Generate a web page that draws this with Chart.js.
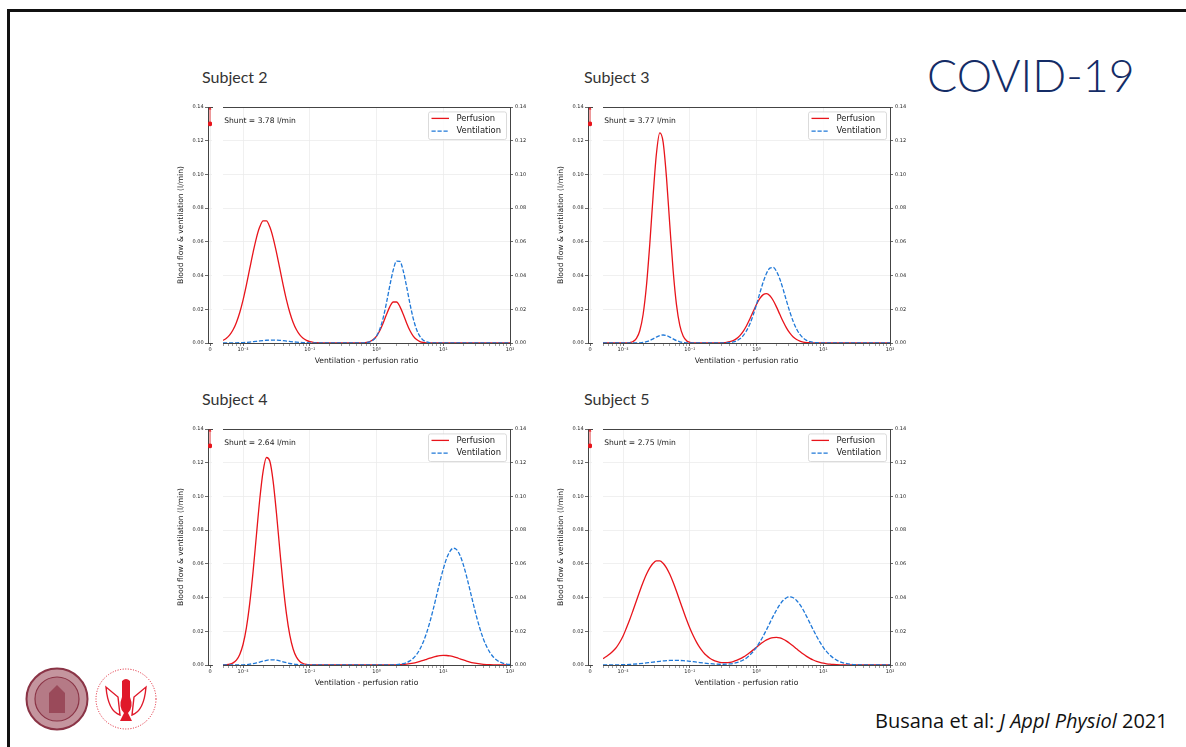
<!DOCTYPE html>
<html>
<head>
<meta charset="utf-8">
<title>COVID-19 – V/Q distributions</title>
<script src="https://cdn.jsdelivr.net/npm/chart.js@4.4.1/dist/chart.umd.min.js"></script>
<style>
  html, body { margin: 0; padding: 0; background: #fff; }
  #slide { position: relative; width: 1186px; height: 747px; overflow: hidden; background: #fff; }
  .frame-top { position: absolute; left: 7px; top: 9px; width: 1179px; height: 3px; background: #111; }
  .frame-left { position: absolute; left: 7px; top: 9px; width: 3px; height: 738px; background: #111; }
  .subject { position: absolute; font: 16px Lato, sans-serif; color: #333; white-space: nowrap; }
  #slide canvas { position: absolute; }
  #covid { position: absolute; left: 927px; top: 48px; font: 300 44.7px Lato, sans-serif; color: #142c66; white-space: nowrap; }
  #cite { position: absolute; left: 875px; top: 707px; font: 20px "Open Sans", sans-serif; color: #111; white-space: nowrap; }
  .logo { position: absolute; }
</style>
</head>
<body>
<div id="slide">
  <div class="frame-top"></div>
  <div class="frame-left"></div>
  <div id="covid">COVID-19</div>
  <div id="cite">Busana et al: <i>J Appl Physiol</i> 2021</div>
  <svg class="logo" style="left:25px;top:667px" width="64" height="64" viewBox="0 0 64 64">
    <circle cx="32" cy="32" r="30.5" fill="#c4959e" stroke="#8a3446" stroke-width="2"/>
    <circle cx="32" cy="32" r="22" fill="#b57a86" stroke="#8a3446" stroke-width="1.2"/>
    <path d="M24 46 L24 26 L32 18 L40 26 L40 46 Z" fill="#9a4a5a"/>
  </svg>
  <svg class="logo" style="left:94px;top:667px" width="64" height="64" viewBox="0 0 64 64">
    <circle cx="32" cy="32" r="30" fill="none" stroke="#e0192a" stroke-width="1" stroke-dasharray="1 1.6"/>
    <path d="M12 20 Q14 44 26 48 L24 30 Z M52 20 Q50 44 38 48 L40 30 Z" fill="none" stroke="#e0192a" stroke-width="1.4"/>
    <path d="M28 14 Q32 10 36 14 L36 30 Q40 40 34 46 L38 54 L26 54 L30 46 Q24 40 28 30 Z" fill="#e0192a"/>
  </svg>
</div>
<script>
// ---- values ------------------------------------------------------------
const subjects = ['Subject 2', 'Subject 3', 'Subject 4', 'Subject 5'];
const shuntFlow = [3.78, 3.77, 2.64, 2.75];       // l/min, off scale
const shuntMarker = 0.13;                          // where the off-scale shunt dot is drawn
const shuntArrowTip = 0.139;

const flowTicks = [0, 0.02, 0.04, 0.06, 0.08, 0.10, 0.12, 0.14];
const ratioTicks = [0.01, 0.1, 1, 10, 100];
const ratioTickLabels = ['10⁻²', '10⁻¹', '10⁰', '10¹', '10²'];

// V/Q compartments (log spaced)
const ratioGrid = [
  0.005, 0.005623, 0.00631, 0.007079, 0.007943, 0.008913, 0.01, 0.01122, 0.01259, 0.01413,
  0.01585, 0.01778, 0.01995, 0.02239, 0.02512, 0.02818, 0.03162, 0.03548, 0.03981, 0.04467,
  0.05012, 0.05623, 0.0631, 0.07079, 0.07943, 0.08913, 0.1, 0.1122, 0.1259, 0.1413,
  0.1585, 0.1778, 0.1995, 0.2239, 0.2512, 0.2818, 0.3162, 0.3548, 0.3981, 0.4467,
  0.5012, 0.5623, 0.631, 0.7079, 0.7943, 0.8913, 1, 1.122, 1.259, 1.413,
  1.585, 1.778, 1.995, 2.239, 2.512, 2.818, 3.162, 3.548, 3.981, 4.467,
  5.012, 5.623, 6.31, 7.079, 7.943, 8.913, 10, 11.22, 12.59, 14.13,
  15.85, 17.78, 19.95, 22.39, 25.12, 28.18, 31.62, 35.48, 39.81, 44.67,
  50.12, 56.23, 63.1, 70.79, 79.43, 89.13, 100,
];

const perfusionS2 = [
  0.00154, 0.00277, 0.00478, 0.00785, 0.0122, 0.0181, 0.0256, 0.0345, 0.0442, 0.0538,
  0.0624, 0.0689, 0.0724, 0.0724, 0.0689, 0.0624, 0.0538, 0.0442, 0.0345, 0.0256,
  0.0181, 0.0122, 0.00785, 0.00478, 0.00277, 0.00154, 0.00081, 0.00041, 0.0002, 0.00009,
  0.00004, 0, 0, 0, 0, 0, 0, 0, 0, 0,
  0.00001, 0.00004, 0.00012, 0.00034, 0.00087, 0.00201, 0.00409, 0.00741, 0.01193, 0.01705,
  0.02161, 0.02433, 0.02433, 0.02161, 0.01705, 0.01193, 0.00741, 0.00409, 0.00201, 0.00087,
  0.00034, 0.00012, 0.00004, 0.00001, 0, 0, 0, 0, 0, 0,
  0, 0, 0, 0, 0, 0, 0, 0, 0, 0,
  0, 0, 0, 0, 0, 0, 0,
];
const ventilationS2 = [
  0.00001, 0.00002, 0.00003, 0.00006, 0.0001, 0.00016, 0.00026, 0.00039, 0.00056, 0.00076,
  0.00099, 0.00123, 0.00144, 0.00162, 0.00173, 0.00176, 0.0017, 0.00157, 0.00137, 0.00114,
  0.00091, 0.00069, 0.0005, 0.00034, 0.00022, 0.00014, 0.00008, 0.00005, 0.00003, 0.00001,
  0, 0, 0, 0, 0, 0, 0, 0, 0, 0,
  0.00001, 0.00002, 0.00008, 0.00024, 0.00069, 0.00179, 0.00409, 0.00831, 0.01502, 0.02409,
  0.03425, 0.04326, 0.04854, 0.04838, 0.04283, 0.03362, 0.02343, 0.01451, 0.008, 0.00389,
  0.0017, 0.00067, 0.00025, 0.00007, 0.00002, 0, 0, 0, 0, 0,
  0, 0, 0, 0, 0, 0, 0, 0, 0, 0,
  0, 0, 0, 0, 0, 0, 0,
];

const perfusionS3 = [
  0, 0, 0, 0, 0, 0, 0.00001, 0.00006, 0.00024, 0.00086,
  0.0027, 0.00728, 0.01692, 0.03393, 0.05863, 0.08738, 0.1124, 0.1246, 0.1192, 0.0984,
  0.07, 0.043, 0.02275, 0.01039, 0.0041, 0.00139, 0.00041, 0.0001, 0.00002, 0,
  0, 0, 0, 0.00001, 0.00003, 0.00008, 0.00018, 0.00038, 0.00077, 0.00146,
  0.0026, 0.00438, 0.00691, 0.01023, 0.01427, 0.01866, 0.02294, 0.02648, 0.02871, 0.02926,
  0.02801, 0.0252, 0.02127, 0.01688, 0.0126, 0.00882, 0.0058, 0.00358, 0.00208, 0.00113,
  0.00058, 0.00028, 0.00013, 0.00005, 0.00002, 0.00001, 0, 0, 0, 0,
  0, 0, 0, 0, 0, 0, 0, 0, 0, 0,
  0, 0, 0, 0, 0, 0, 0,
];
const ventilationS3 = [
  0, 0, 0, 0, 0, 0, 0, 0, 0, 0.00001,
  0.00004, 0.00013, 0.00034, 0.00076, 0.00147, 0.00246, 0.00355, 0.00442, 0.00475, 0.0044,
  0.00351, 0.00242, 0.00144, 0.00074, 0.00033, 0.00012, 0.00004, 0.00001, 0, 0,
  0, 0, 0, 0, 0.00001, 0.00002, 0.00006, 0.00013, 0.00031, 0.00065,
  0.0013, 0.00246, 0.00436, 0.00724, 0.01134, 0.01663, 0.02294, 0.02971, 0.03615, 0.04134,
  0.0444, 0.04481, 0.04243, 0.03779, 0.03165, 0.02485, 0.01834, 0.0127, 0.00828, 0.00505,
  0.00291, 0.00157, 0.0008, 0.00038, 0.00017, 0.00007, 0.00003, 0.00001, 0, 0,
  0, 0, 0, 0, 0, 0, 0, 0, 0, 0,
  0, 0, 0, 0, 0, 0, 0,
];

const perfusionS4 = [
  0.00006, 0.00018, 0.00049, 0.00126, 0.00294, 0.00628, 0.01232, 0.02221, 0.03666, 0.05553,
  0.07713, 0.09835, 0.1149, 0.1231, 0.121, 0.1091, 0.09017, 0.06835, 0.04751, 0.03033,
  0.01771, 0.0095, 0.00467, 0.00211, 0.00088, 0.00033, 0.00012, 0.00004, 0.00001, 0,
  0, 0, 0, 0, 0, 0, 0, 0, 0, 0,
  0, 0, 0, 0, 0, 0, 0, 0, 0.00001, 0.00002,
  0.00004, 0.00007, 0.00012, 0.0002, 0.00033, 0.00051, 0.00077, 0.00112, 0.00157, 0.0021,
  0.00272, 0.00339, 0.00406, 0.00468, 0.00519, 0.00555, 0.0057, 0.00563, 0.00536, 0.0049,
  0.00432, 0.00366, 0.00299, 0.00234, 0.00177, 0.00129, 0.0009, 0.00061, 0.00039, 0.00025,
  0.00015, 0.00008, 0.00005, 0.00003, 0.00001, 0.00001, 0,
];
const ventilationS4 = [
  0, 0, 0, 0.00001, 0.00002, 0.00006, 0.00012, 0.00025, 0.00046, 0.00079,
  0.00122, 0.00175, 0.00229, 0.00276, 0.00304, 0.00307, 0.00285, 0.00243, 0.00189, 0.00136,
  0.00089, 0.00053, 0.0003, 0.00015, 0.00007, 0.00003, 0.00001, 0, 0, 0,
  0, 0, 0, 0, 0, 0, 0, 0, 0, 0,
  0, 0, 0, 0, 0, 0, 0, 0.00001, 0.00001, 0.00003,
  0.00006, 0.00012, 0.00024, 0.00045, 0.00082, 0.00144, 0.00244, 0.00397, 0.00623, 0.00939,
  0.01364, 0.01906, 0.02561, 0.03315, 0.04126, 0.04942, 0.05696, 0.06317, 0.06743, 0.06928,
  0.06844, 0.06509, 0.05955, 0.05246, 0.04446, 0.03627, 0.02849, 0.0215, 0.01561, 0.01094,
  0.00737, 0.00475, 0.00295, 0.00177, 0.00103, 0.00058, 0.0003,
];

const perfusionS5 = [
  0.0038, 0.005, 0.0065, 0.0083, 0.0105, 0.0135, 0.0172, 0.02197, 0.027, 0.03249,
  0.0381, 0.04375, 0.04905, 0.05379, 0.05761, 0.06032, 0.06172, 0.06172, 0.06032, 0.05761,
  0.05379, 0.04905, 0.04375, 0.0381, 0.03249, 0.027, 0.02197, 0.01747, 0.01359, 0.01031,
  0.00768, 0.00559, 0.00402, 0.00287, 0.00208, 0.0016, 0.00138, 0.00139, 0.00162, 0.00206,
  0.00272, 0.00359, 0.00467, 0.00595, 0.00741, 0.00897, 0.0106, 0.0122, 0.01364, 0.01487,
  0.01578, 0.01629, 0.01638, 0.01603, 0.01528, 0.01417, 0.01279, 0.01124, 0.00962, 0.00802,
  0.00651, 0.00513, 0.00394, 0.00295, 0.00215, 0.00152, 0.00105, 0.00071, 0.00046, 0.00029,
  0.00018, 0.00011, 0.00006, 0.00004, 0.00002, 0.00001, 0.00001, 0, 0, 0,
  0, 0, 0, 0, 0, 0, 0,
];
const ventilationS5 = [
  0.00002, 0.00003, 0.00004, 0.00006, 0.00008, 0.00012, 0.00017, 0.00025, 0.00034, 0.00046,
  0.0006, 0.00078, 0.00098, 0.0012, 0.00145, 0.0017, 0.00195, 0.00219, 0.0024, 0.00257,
  0.0027, 0.00276, 0.00276, 0.0027, 0.00258, 0.00241, 0.0022, 0.00196, 0.00171, 0.00146,
  0.00122, 0.00099, 0.0008, 0.00064, 0.00052, 0.00045, 0.00044, 0.0005, 0.00064, 0.00092,
  0.00136, 0.00202, 0.00295, 0.00421, 0.00588, 0.008, 0.0106, 0.01368, 0.01718, 0.02101,
  0.025, 0.02897, 0.03268, 0.0359, 0.03837, 0.03992, 0.04045, 0.03988, 0.03829, 0.03581,
  0.03261, 0.02882, 0.02484, 0.02088, 0.01708, 0.01357, 0.01051, 0.00793, 0.00582, 0.00415,
  0.00289, 0.00196, 0.00128, 0.00085, 0.0005, 0.00028, 0.00019, 0.00011, 0.00005, 0.00003,
  0.00001, 0, 0, 0, 0, 0, 0,
];

// ---- drawing --------------------------------------------------------------
const RED = '#e8141b';
const BLUE = '#1f78d8';
const INK = '#1a1a1a';
const SPINE = '#444';
const GRID = '#ececec';
const tickFont = { family: 'DejaVu Sans', size: 5 };
const labelFont = { family: 'DejaVu Sans', size: 7.6 };

// main axes origin (left, top) of each panel; plot area is 287 x 236
const panels = [
    { title: subjects[0], shunt: shuntFlow[0], q: perfusionS2, v: ventilationS2, left: 223, top: 107, titleX: 202 },
    { title: subjects[1], shunt: shuntFlow[1], q: perfusionS3, v: ventilationS3, left: 603, top: 107, titleX: 584 },
    { title: subjects[2], shunt: shuntFlow[2], q: perfusionS4, v: ventilationS4, left: 223, top: 429, titleX: 202 },
    { title: subjects[3], shunt: shuntFlow[3], q: perfusionS5, v: ventilationS5, left: 603, top: 429, titleX: 584 },
];
const PLOT_W = 287, PLOT_H = 236, PAD_TOP = 8, X_AXIS_H = 30;

const slide = document.getElementById('slide');

function addCanvas(x, y, w, h) {
    const c = document.createElement('canvas');
    c.width = w;
    c.height = h;
    c.style.left = x + 'px';
    c.style.top = y + 'px';
    c.style.width = w + 'px';
    c.style.height = h + 'px';
    slide.appendChild(c);
    return c;
}

const isDecade = (v) => ratioTicks.includes(v);

// matplotlib-ish legend box in the upper right corner of the plot
const boxLegend = {
    id: 'boxLegend',
    afterDatasetsDraw(chart) {
        const { ctx, chartArea: a } = chart;
        const w = 78, h = 27.6;
        const left = a.right - 4 - w, top = a.top + 4.4;
        ctx.save();
        ctx.beginPath();
        ctx.roundRect(left + 0.5, top + 0.5, w, h, 2);
        ctx.fillStyle = 'rgba(255,255,255,0.85)';
        ctx.fill();
        ctx.strokeStyle = '#d2d2d2';
        ctx.lineWidth = 0.8;
        ctx.stroke();
        ctx.font = '8.4px "DejaVu Sans"';
        ctx.textBaseline = 'middle';
        chart.data.datasets.forEach((ds, i) => {
            const y = top + 7 + i * 12.7;
            ctx.beginPath();
            ctx.strokeStyle = ds.borderColor;
            ctx.lineWidth = ds.borderWidth;
            ctx.setLineDash(ds.borderDash || []);
            ctx.moveTo(left + 3.5, y);
            ctx.lineTo(left + 21, y);
            ctx.stroke();
            ctx.setLineDash([]);
            ctx.fillStyle = INK;
            ctx.fillText(ds.label, left + 28.4, y);
        });
        ctx.restore();
    },
};

const shuntNote = {
    id: 'shuntNote',
    afterDatasetsDraw(chart, args, opts) {
        const { ctx, chartArea: a } = chart;
        ctx.save();
        ctx.font = '7.6px "DejaVu Sans"';
        ctx.fillStyle = INK;
        ctx.textBaseline = 'middle';
        ctx.fillText(opts.text, a.left + 1.2, a.top + 13.7);
        ctx.restore();
    },
};

const topSpine = {
    type: 'linear', position: 'top', min: 0, max: 1,
    ticks: { display: false },
    grid: { display: false },
    border: { color: SPINE, width: 1 },
    afterFit: (s) => { s.height = 0; },
};

const flowAxis = (position, width, extra) => ({
    position, min: 0, max: 0.14,
    afterBuildTicks: (s) => { s.ticks = flowTicks.map((v) => ({ value: v })); },
    afterFit: (s) => { s.width = width; },
    ticks: { font: tickFont, color: '#222', padding: position === 'left' ? 1.4 : 2, callback: (v) => v.toFixed(2) },
    grid: { color: GRID, lineWidth: 0.8, tickColor: SPINE, tickLength: 3 },
    border: { color: SPINE, width: 1 },
    ...extra,
});

function drawShuntAxes(p) {
    const canvas = addCanvas(p.left - 53, p.top - PAD_TOP, 46, PAD_TOP + PLOT_H + X_AXIS_H);
    return new Chart(canvas, {
        type: 'scatter',
        data: {
            datasets: [
                { data: [{ x: 0, y: shuntMarker }], pointRadius: 2.3, pointBackgroundColor: RED, pointBorderWidth: 0 },
                {
                    type: 'line',
                    data: [{ x: 0, y: shuntMarker }, { x: 0, y: shuntArrowTip }],
                    borderColor: RED, borderWidth: 0.8,
                    pointRadius: [0, 1.7], pointStyle: 'triangle',
                    pointBackgroundColor: RED, pointBorderWidth: 0, clip: 4,
                },
            ],
        },
        options: {
            animation: false, responsive: false, devicePixelRatio: 1,
            layout: { padding: { top: PAD_TOP, right: 0, bottom: 0, left: 0 } },
            plugins: { legend: { display: false }, tooltip: { enabled: false } },
            scales: {
                x: {
                    type: 'linear', min: -1, max: 1,
                    afterBuildTicks: (s) => { s.ticks = [{ value: 0 }]; },
                    afterFit: (s) => { s.height = X_AXIS_H; },
                    ticks: { font: tickFont, color: '#222', padding: 1, callback: () => '0' },
                    grid: { color: GRID, lineWidth: 0.8, tickColor: SPINE, tickLength: 3 },
                    border: { color: SPINE, width: 1 },
                },
                top: topSpine,
                y: flowAxis('left', 38, {
                    title: {
                        display: true, text: 'Blood flow & ventilation (l/min)',
                        font: labelFont, color: INK, padding: { top: 6, bottom: 0 },
                    },
                }),
            },
        },
    });
}

function drawMainAxes(p) {
    const canvas = addCanvas(p.left - 6, p.top - PAD_TOP, 6 + PLOT_W + 30, PAD_TOP + PLOT_H + X_AXIS_H);
    const series = (vals) => ratioGrid.map((x, i) => ({ x, y: vals[i] }));
    return new Chart(canvas, {
        type: 'line',
        data: {
            datasets: [
                {
                    label: 'Perfusion', data: series(p.q), borderColor: RED, borderWidth: 1.3,
                    pointRadius: 0, cubicInterpolationMode: 'monotone', order: 2,
                },
                {
                    label: 'Ventilation', data: series(p.v), borderColor: BLUE, borderWidth: 1.3,
                    borderDash: [4.2, 1.8], pointRadius: 0, cubicInterpolationMode: 'monotone', order: 1,
                },
            ],
        },
        options: {
            animation: false, responsive: false, devicePixelRatio: 1,
            layout: { padding: { top: PAD_TOP, right: 0, bottom: 0, left: 6 } },
            plugins: {
                legend: { display: false }, tooltip: { enabled: false },
                shuntNote: { text: `Shunt = ${p.shunt.toFixed(2)} l/min` },
            },
            scales: {
                x: {
                    type: 'logarithmic', min: 0.005, max: 100,
                    afterBuildTicks: (s) => {
                        const minor = [0.001, 0.01, 0.1, 1, 10]
                            .flatMap((d) => [2, 3, 4, 5, 6, 7, 8, 9].map((m) => +(m * d).toPrecision(3)))
                            .filter((v) => v >= 0.005 && v <= 100);
                        s.ticks = [...minor, ...ratioTicks].sort((a, b) => a - b).map((v) => ({ value: v }));
                    },
                    afterFit: (s) => { s.height = X_AXIS_H; },
                    ticks: {
                        font: tickFont, color: '#222', padding: 1, autoSkip: false, maxRotation: 0, minRotation: 0,
                        callback: (v) => { const k = ratioTicks.indexOf(v); return k >= 0 ? ratioTickLabels[k] : ''; },
                    },
                    grid: {
                        lineWidth: 0.8, tickLength: 3,
                        color: (c) => (c.tick && isDecade(c.tick.value) ? GRID : 'rgba(0,0,0,0)'),
                        tickColor: (c) => (c.tick && isDecade(c.tick.value) ? SPINE : '#8a8a8a'),
                    },
                    border: { color: SPINE, width: 1 },
                    title: {
                        display: true, text: 'Ventilation - perfusion ratio',
                        font: labelFont, color: INK, padding: { top: 0, bottom: 7 },
                    },
                },
                top: topSpine,
                y: flowAxis('right', 30),
            },
        },
        plugins: [boxLegend, shuntNote],
    });
}

panels.forEach((p) => {
    const t = document.createElement('div');
    t.className = 'subject';
    t.textContent = p.title;
    t.style.left = p.titleX + 'px';
    t.style.top = (p.top - 40) + 'px';
    slide.appendChild(t);
    drawShuntAxes(p);
    drawMainAxes(p);
});
</script>
</body>
</html>
